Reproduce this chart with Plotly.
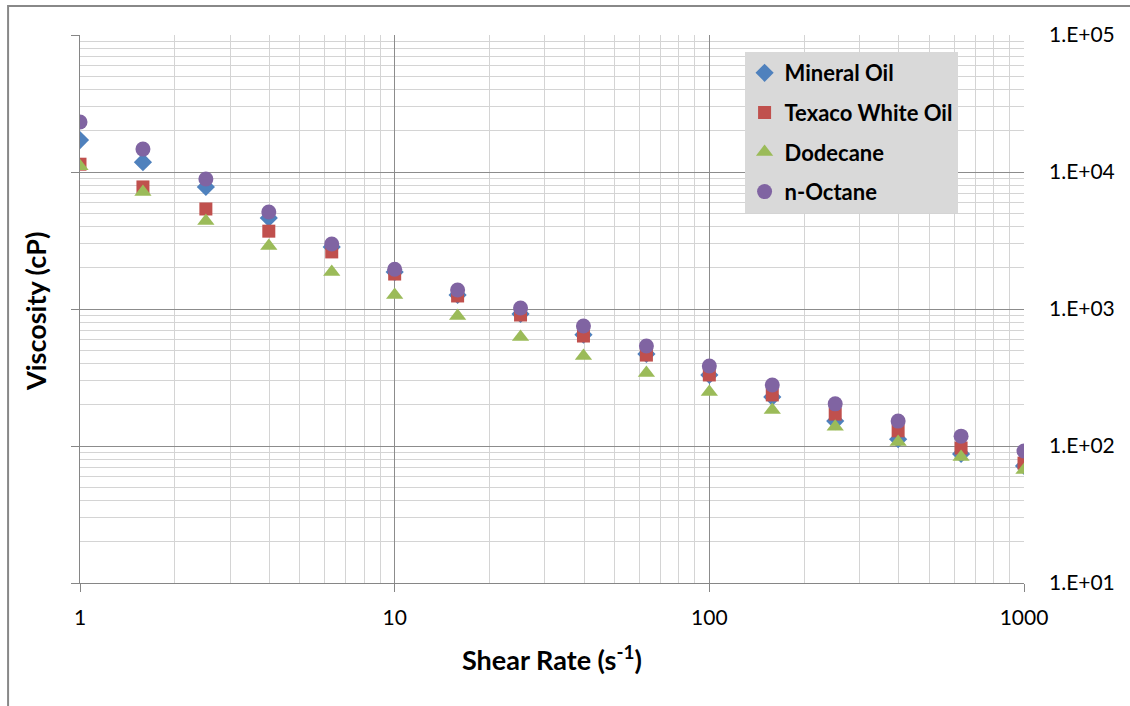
import plotly.graph_objects as go

shear_rate = [1, 1.585, 2.512, 3.981, 6.31, 10, 15.85, 25.12, 39.81, 63.1, 100, 158.5, 251.2, 398.1, 631, 1000]
mineral_oil = [17100, 11800, 7780, 4620, 2840, 1860, 1265, 920, 650, 470, 330, 228, 152, 112, 87.5, 71.5]
texaco_white_oil = [11400, 7780, 5370, 3700, 2610, 1800, 1245, 904, 635, 461, 330, 236, 171, 129, 96.6, 75]
dodecane = [11000, 7150, 4390, 2880, 1860, 1265, 889, 625, 454, 341, 248, 183, 138, 107, 83, 66.8]
n_octane = [23200, 14700, 8890, 5100, 2980, 1950, 1375, 1017, 752, 537, 384, 279, 203, 152, 118, 92]

y_tickvals = [10, 100, 1000, 10000, 100000]
y_ticktext = ["1.E+01", "1.E+02", "1.E+03", "1.E+04", "1.E+05"]
x_tickvals = [1, 10, 100, 1000]
x_ticktext = ["1", "10", "100", "1000"]

series = [
    ("Mineral Oil", mineral_oil, "diamond", "#4F81BD", 14),
    ("Texaco White Oil", texaco_white_oil, "square", "#C0504D", 13),
    ("Dodecane", dodecane, "triangle-up", "#9BBB59", 15),
    ("n-Octane", n_octane, "circle", "#8064A2", 15),
]

FONT = "Lato"
fig = go.Figure()
for i, (name, vals, sym, col, sz) in enumerate(series):
    fig.add_trace(go.Scatter(
        x=shear_rate, y=vals, mode="markers", name=name, legendgroup=str(i),
        marker=dict(symbol=sym, color=col, size=sz, line=dict(width=0)),
    ))
fig.add_trace(go.Scatter(x=[None], y=[None], yaxis="y2", showlegend=False, hoverinfo="skip"))

major_grid = "#8C8C8C"
minor_grid = "#D4D4D4"

fig.update_layout(
    width=1130, height=706,
    margin=dict(l=80, r=106, t=35, b=123),
    paper_bgcolor="white", plot_bgcolor="white",
    font=dict(family=FONT, color="#000000"),
    xaxis=dict(
        type="log", range=[0, 3],
        tickvals=x_tickvals, ticktext=x_ticktext,
        ticks="outside", ticklen=8, tickcolor="#868686", tickwidth=1,
        showline=True, linecolor="#868686", linewidth=1,
        showgrid=True, gridcolor=major_grid, gridwidth=1,
        minor=dict(dtick="D1", showgrid=True, gridcolor=minor_grid, gridwidth=1, ticks=""),
        tickfont=dict(family=FONT, size=21, color="#000000"),
        ticklabelstandoff=8,
        zeroline=False,
    ),
    yaxis=dict(
        type="log", range=[1, 5],
        tickvals=y_tickvals, showticklabels=False,
        ticks="outside", ticklen=8, tickcolor="#868686", tickwidth=1,
        showline=True, linecolor="#868686", linewidth=1,
        showgrid=True, gridcolor=major_grid, gridwidth=1,
        minor=dict(dtick="D1", showgrid=True, gridcolor=minor_grid, gridwidth=1, ticks=""),
        zeroline=False,
    ),
    yaxis2=dict(
        type="log", range=[1, 5], overlaying="y", side="right", anchor="x",
        tickvals=y_tickvals, ticktext=y_ticktext,
        showgrid=False, showline=False, ticks="", zeroline=False,
        tickfont=dict(family=FONT, size=21, color="#000000"),
        ticklabelstandoff=24,
    ),
    legend=dict(
        x=0.704, y=0.969, xanchor="left", yanchor="top",
        bgcolor="#D9D9D9", borderwidth=0,
        font=dict(family=FONT, size=22, color="#000000", weight="bold"),
        traceorder="grouped", tracegroupgap=8,
        itemwidth=30,
    ),
    showlegend=True,
    annotations=[
        dict(text="<b>Viscosity (cP)</b>", xref="paper", yref="paper",
             x=(35 - 80) / 945, y=(583 - 312) / 548, textangle=-90,
             showarrow=False, font=dict(family=FONT, size=27, color="#000000"),
             xanchor="center", yanchor="middle"),
        dict(text="<b>Shear Rate (s<sup>-1</sup>)</b>", xref="paper", yref="paper",
             x=(553 - 80) / 945, y=(583 - 658) / 548,
             showarrow=False, font=dict(family=FONT, size=27, color="#000000"),
             xanchor="center", yanchor="middle"),
    ],
    shapes=[
        dict(type="rect", xref="paper", yref="paper",
             x0=(8 - 80) / 945, x1=(1145 - 80) / 945,
             y0=(583 - 720) / 548, y1=(583 - 6) / 548,
             line=dict(color="#888888", width=2), fillcolor="rgba(0,0,0,0)", layer="below"),
    ],
)

fig.write_html("out.html")
